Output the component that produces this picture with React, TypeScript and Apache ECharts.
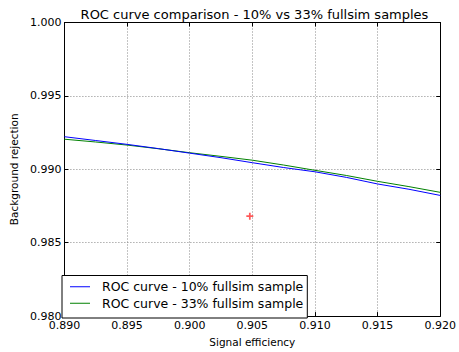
import React, { useEffect, useRef } from "react";
import * as echarts from "echarts";

const efficiency = [0.89, 0.8925, 0.895, 0.8975, 0.9, 0.9025, 0.905, 0.9075, 0.91, 0.9125, 0.915, 0.9175, 0.92];
const roc10 = [0.99222, 0.99196, 0.9917, 0.99141, 0.9911, 0.99079, 0.99045, 0.99012, 0.98983, 0.98945, 0.989, 0.98864, 0.98822];
const roc33 = [0.99205, 0.99186, 0.99165, 0.9914, 0.99113, 0.99088, 0.99062, 0.99029, 0.98993, 0.98958, 0.98918, 0.98882, 0.98843];
const markerPoint = [[0.9048, 0.98681]];

const xTicks = { min: 0.89, max: 0.92, interval: 0.005 };
const yTicks = { min: 0.98, max: 1.0, interval: 0.005 };

const FONT = "DejaVu Sans";

export default function App() {
  const ref = useRef<HTMLDivElement>(null);

  useEffect(() => {
    if (!ref.current) return;
    const chart = echarts.init(ref.current, undefined, { renderer: "svg" });
    const frameLine = { show: true, lineStyle: { color: "#000", width: 1 } };
    const tick = { show: true, inside: true, length: 4, lineStyle: { color: "#000" } };
    const grid = { show: true, lineStyle: { color: "#888", type: [1, 2] as any, width: 1 } };
    chart.setOption({
      animation: false,
      backgroundColor: "#fff",
      textStyle: { fontFamily: FONT },
      title: {
        text: "ROC curve comparison - 10% vs 33% fullsim samples",
        left: 249.5,
        textAlign: "center",
        top: 3,
        textStyle: { fontFamily: FONT, fontSize: 13, fontWeight: "normal", color: "#000" },
      },
      grid: { left: 56, right: 16, top: 22.5, bottom: 29.5, containLabel: false },
      legend: {
        data: ["ROC curve - 10% fullsim sample", "ROC curve - 33% fullsim sample"],
        orient: "vertical",
        left: 62,
        top: 275.5,
        icon: "rect",
        itemWidth: 20,
        itemHeight: 1,
        itemGap: 2,
        padding: [4, 4, 7.5, 8],
        borderColor: "#000",
        borderWidth: 1,
        backgroundColor: "#fff",
        textStyle: {
          fontFamily: FONT,
          fontSize: 12.5,
          lineHeight: 14.5,
          color: "#000",
          padding: [0, 0, 0, 7],
        },
      },
      xAxis: [
        {
          type: "value",
          ...xTicks,
          name: "Signal efficiency",
          nameLocation: "middle",
          nameGap: 16,
          nameTextStyle: { fontFamily: FONT, fontSize: 10.5, color: "#000" },
          axisLine: frameLine,
          axisTick: tick,
          splitLine: grid,
          axisLabel: {
            margin: 4,
            fontFamily: FONT,
            fontSize: 11,
            color: "#000",
            formatter: (v: number) => v.toFixed(3),
          },
        },
        {
          type: "value",
          ...xTicks,
          position: "top",
          axisLine: frameLine,
          axisTick: tick,
          splitLine: { show: false },
          axisLabel: { show: false },
        },
      ],
      yAxis: [
        {
          type: "value",
          ...yTicks,
          name: "Background rejection",
          nameLocation: "middle",
          nameGap: 42,
          nameTextStyle: { fontFamily: FONT, fontSize: 10.5, color: "#000" },
          axisLine: frameLine,
          axisTick: tick,
          splitLine: grid,
          axisLabel: {
            margin: 3,
            fontFamily: FONT,
            fontSize: 11,
            color: "#000",
            formatter: (v: number) => v.toFixed(3),
          },
        },
        {
          type: "value",
          ...yTicks,
          position: "right",
          axisLine: frameLine,
          axisTick: tick,
          splitLine: { show: false },
          axisLabel: { show: false },
        },
      ],
      series: [
        {
          name: "ROC curve - 10% fullsim sample",
          type: "line",
          data: efficiency.map((x, i) => [x, roc10[i]]),
          symbol: "none",
          smooth: false,
          lineStyle: { color: "#0000ff", width: 1 },
          itemStyle: { color: "#0000ff" },
          z: 3,
        },
        {
          name: "ROC curve - 33% fullsim sample",
          type: "line",
          data: efficiency.map((x, i) => [x, roc33[i]]),
          symbol: "none",
          smooth: false,
          lineStyle: { color: "#008000", width: 1 },
          itemStyle: { color: "#008000" },
          z: 2,
        },
        {
          name: "marker",
          type: "scatter",
          data: markerPoint,
          symbol: "path://M3,0H5V3H8V5H5V8H3V5H0V3H3Z",
          symbolSize: 7,
          itemStyle: { color: "#ff3030" },
          z: 4,
        },
      ],
    });
    return () => chart.dispose();
  }, []);

  return (
    <div
      ref={ref}
      style={{ position: "fixed", left: 0, top: 0, width: 459, height: 352 }}
    />
  );
}
